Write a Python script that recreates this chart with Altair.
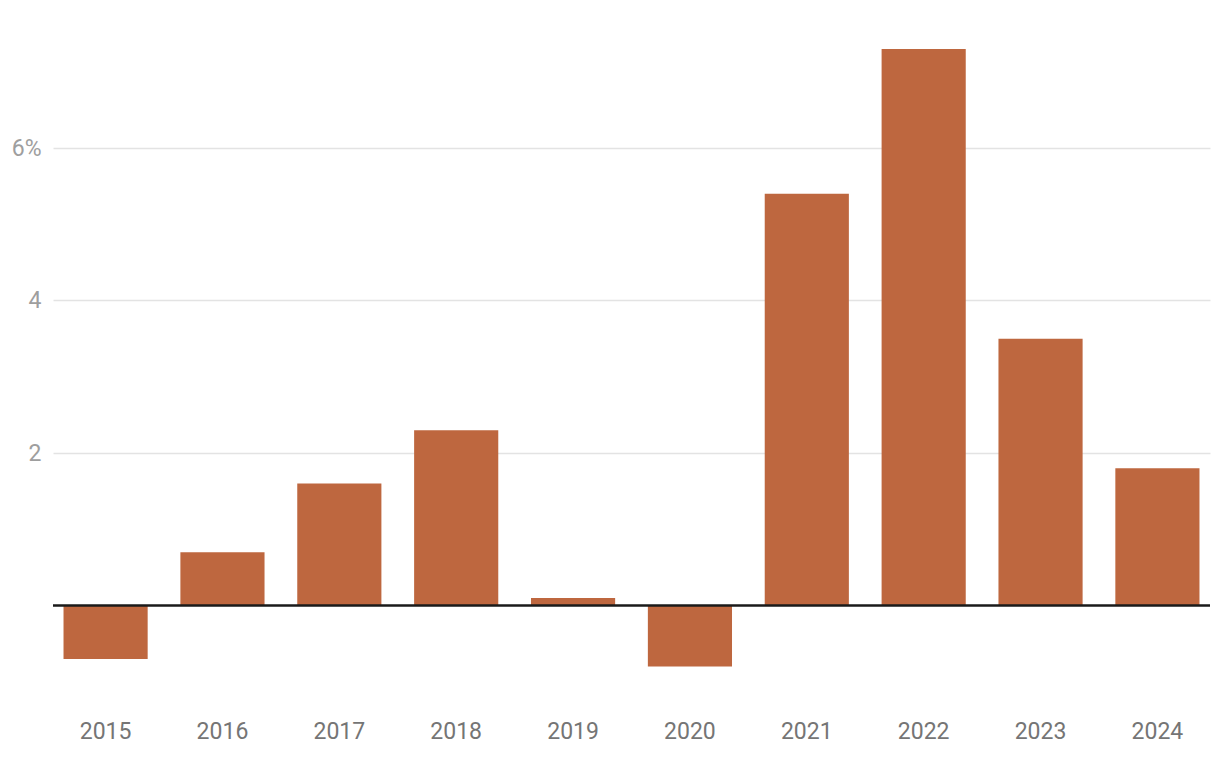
import altair as alt
import pandas as pd

years = ["2015", "2016", "2017", "2018", "2019", "2020", "2021", "2022", "2023", "2024"]
values = [-0.7, 0.7, 1.6, 2.3, 0.1, -0.8, 5.4, 7.3, 3.5, 1.8]
y_ticks = [2, 4, 6]

df = pd.DataFrame({"year": years, "value": values})
zero = pd.DataFrame({"z": [0]})

FONT = "Roboto"

bars = alt.Chart(df).mark_bar(color="#be673f").encode(
    x=alt.X("year:N", sort=years, title=None,
            scale=alt.Scale(paddingInner=0.28, paddingOuter=0.09),
            axis=alt.Axis(labelAngle=0, ticks=False, domain=False, labelFont=FONT,
                          labelFontSize=23, labelColor="#757575", labelPadding=23)),
    y=alt.Y("value:Q", title=None,
            scale=alt.Scale(domain=[-1.2, 7.6], nice=False, zero=False),
            axis=alt.Axis(values=y_ticks, ticks=False, domain=False, labelFont=FONT,
                          labelFontSize=23, labelColor="#9e9e9e", labelPadding=12,
                          format="d",
                          labelExpr="datum.value == 6 ? '6%' : datum.label",
                          gridColor="#e3e3e3", gridWidth=1.5)),
)

rule = alt.Chart(zero).mark_rule(color="#1a1a1a", strokeWidth=2.5).encode(
    y=alt.Y("z:Q", scale=alt.Scale(domain=[-1.2, 7.6], nice=False, zero=False))
)

chart = alt.layer(bars, rule).properties(
    width=1157, height=671,
    autosize=alt.AutoSizeParams(type="none"),
    padding={"left": 53, "top": 26, "right": 10, "bottom": 65},
).configure(background="white", view=alt.ViewConfig(stroke=None))

chart.save("out.html", embed_options={"renderer": "svg", "actions": False})
